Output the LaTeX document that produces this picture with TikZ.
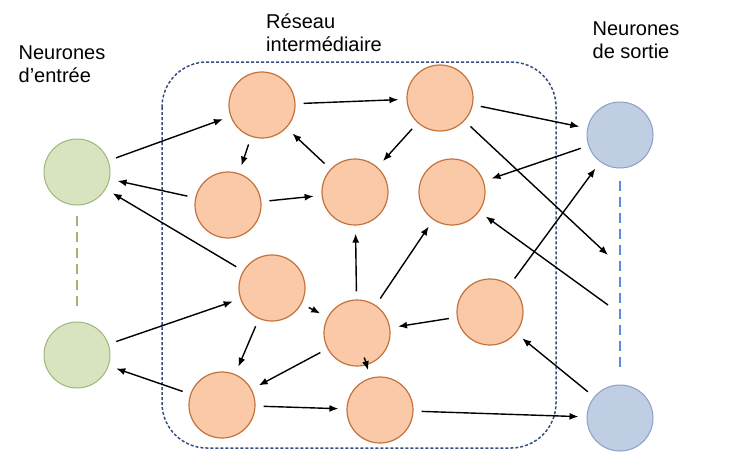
\documentclass[tikz,border=0pt]{standalone}
\usepackage{fontspec}
\setmainfont{Liberation Sans}
\usetikzlibrary{shapes.geometric,arrows.meta}
\definecolor{orfill}{RGB}{250,201,168}
\definecolor{ordraw}{RGB}{196,114,60}
\definecolor{grfill}{RGB}{216,228,192}
\definecolor{grdraw}{RGB}{160,182,120}
\definecolor{blfill}{RGB}{192,206,228}
\definecolor{bldraw}{RGB}{138,160,200}
\definecolor{bldash}{RGB}{90,140,220}
\definecolor{boxdraw}{RGB}{50,80,125}
\tikzset{
  hidden/.style={ellipse,draw=ordraw,fill=orfill,line width=1.2pt,minimum width=66pt,minimum height=66pt},
  inneur/.style={ellipse,draw=grdraw,fill=grfill,line width=1pt,minimum width=66pt,minimum height=66pt},
  outneur/.style={ellipse,draw=bldraw,fill=blfill,line width=1pt,minimum width=66pt,minimum height=66pt},
  link/.style={-{Latex[length=9pt,width=7pt]},line width=1.4pt,shorten >=8pt,shorten <=8pt},
  lbl/.style={font=\fontsize{20pt}{23pt}\selectfont,align=left}
}
\begin{document}
\begin{tikzpicture}[x=1pt,y=-1pt]
\useasboundingbox (0,0) rectangle (754,459);

\draw [boxdraw,line width=1.5pt,dash pattern=on 3pt off 2pt,rounded corners=45pt] (162,62) rectangle (556,448);

\node (in1) at (77,172) [inneur] {};
\node (in2) at (77,355) [inneur] {};
\node (out1) at (620,135) [outneur] {};
\node (out2) at (620,418) [outneur] {};
\draw [grdraw,line width=2pt,dash pattern=on 10pt off 6pt,shorten <=10pt,shorten >=10pt] (in1) -- (in2);
\draw [bldash,line width=2pt,dash pattern=on 10pt off 6pt,shorten <=12pt,shorten >=12pt] (out1) -- (out2);
\coordinate (m1) at (608,255);
\coordinate (m2) at (608,305);

\node (a) at (262,105) [hidden] {};
\node (b) at (440,98) [hidden] {};
\node (c) at (228,205) [hidden] {};
\node (d) at (355,192) [hidden] {};
\node (e) at (452,192) [hidden] {};
\node (f) at (272,288) [hidden] {};
\node (g) at (357,333) [hidden] {};
\node (h) at (490,312) [hidden] {};
\node (i) at (222,405) [hidden] {};
\node (j) at (380,410) [hidden] {};

\draw [link] (in1) -- (a);
\draw [link] (a) -- (b);
\draw [link] (a) -- (c);
\draw [link] (c) -- (in1);
\draw [link] (c) -- (d);
\draw [link] (d) -- (a);
\draw [link] (b) -- (d);
\draw [link] (b) -- (out1);
\draw [link] (out1) -- (e);
\draw [link,shorten >=0pt] (b) -- (m1);
\draw [link] (f) -- (in1);
\draw [link] (in2) -- (f);
\draw [link] (f) -- (g);
\draw [link] (f) -- (i);
\draw [link] (g) -- (d);
\draw [link] (g) -- (e);
\draw [link] (g) -- (i);
\draw [link] (g) -- (j);
\draw [link] (h) -- (g);
\draw [link] (h) -- (out1);
\draw [link,shorten <=0pt] (m2) -- (e);
\draw [link] (out2) -- (h);
\draw [link] (i) -- (in2);
\draw [link] (i) -- (j);
\draw [link] (j) -- (out2);

\node (tin) at (62,64) [lbl] {Neurones\\d’entrée};
\node (tmid) at (324,33) [lbl] {Réseau\\intermédiaire};
\node (tout) at (636,40) [lbl] {Neurones\\de sortie};
\end{tikzpicture}
\end{document}
